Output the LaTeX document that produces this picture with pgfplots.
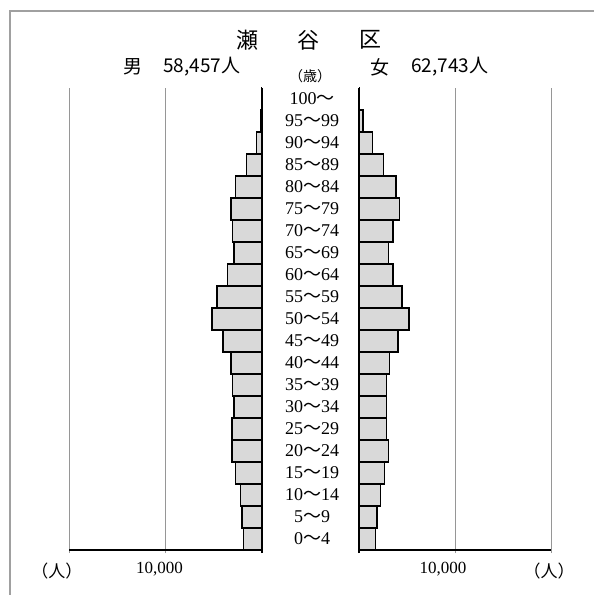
\documentclass[border=0pt]{standalone}
\usepackage{pgfplots}
\pgfplotsset{compat=1.18}
\usepackage{fontspec}
\setmainfont{Liberation Serif}
\newfontfamily\cjk{Noto Sans CJK JP}
\newfontfamily\ser{Liberation Serif}
\newcommand\T{{\cjk ～}}
\definecolor{barfill}{RGB}{217,217,217}
\definecolor{gridc}{RGB}{150,150,150}

\pgfplotstableread{
age male female
0 1900 1740
1 2070 1880
2 2250 2260
3 2730 2680
4 3110 3050
5 3110 2840
6 2900 2840
7 3080 2840
8 3210 3200
9 4040 4060
10 5180 5210
11 4660 4480
12 3550 3540
13 2900 3050
14 3080 3540
15 3210 4200
16 2730 3860
17 1590 2530
18 590 1390
19 150 420
20 30 50
}\pop

\pgfplotsset{
  pyr/.style={
    scale only axis,
    height=462pt,
    ymin=-0.5, ymax=20.5,
    xmin=0, xmax=20000,
    enlargelimits=false,
    scaled x ticks=false,
    xbar, bar width=1,
    axis x line*=bottom,
    axis y line*=left,
    y axis line style={draw=none},
    ytick style={draw=none},
    x axis line style={black, line width=1.2pt, -},
    xtick={10000,20000},
    xmajorgrids,
    grid style={gridc, line width=0.9pt},
    tick align=outside,
    major tick length=3pt,
    xtick style={gridc, line width=0.9pt},
    extra x ticks={0},
    extra x tick labels={},
    extra x tick style={grid style={black, line width=1.6pt}, major tick length=3pt, xtick style={black, line width=1.6pt}},
    xticklabel style={font=\fontsize{17}{17}\selectfont, yshift=-6pt},
    /pgf/number format/assume math mode=true,
  },
  barsty/.style={draw=black, line width=1.3pt, fill=barfill},
}

\begin{document}
\begin{tikzpicture}[x=1pt,y=1pt]
\useasboundingbox (0,0) rectangle (594,595);
\draw[gridc!90, line width=1.5pt] (10,0) -- (10,584) -- (594,584);

% left (male)
\begin{axis}[pyr, at={(69pt,45pt)}, anchor=south west, width=193pt,
  x dir=reverse, ytick=\empty,
  xticklabels={{\hspace*{-12pt}\ser 10,000},{\hspace*{-24pt}\cjk （人）}}]
\addplot[barsty] table[x=male, y=age] {\pop};
\end{axis}

% right (female)
\begin{axis}[pyr, at={(359pt,45pt)}, anchor=south west, width=192pt,
  ytick={0,...,20},
  yticklabels={
    {\ser 0\T 4},{\ser 5\T 9},{\ser 10\T 14},{\ser 15\T 19},{\ser 20\T 24},
    {\ser 25\T 29},{\ser 30\T 34},{\ser 35\T 39},{\ser 40\T 44},{\ser 45\T 49},
    {\ser 50\T 54},{\ser 55\T 59},{\ser 60\T 64},{\ser 65\T 69},{\ser 70\T 74},
    {\ser 75\T 79},{\ser 80\T 84},{\ser 85\T 89},{\ser 90\T 94},{\ser 95\T 99},
    {\ser 100\T}},
  yticklabel style={anchor=center, xshift=-44pt, font=\fontsize{18}{18}\selectfont, inner sep=0pt},
  xticklabels={{\hspace*{-24pt}\ser 10,000},{\hspace*{-4pt}\cjk （人）}}]
\addplot[barsty] table[x=female, y=age] {\pop};
\end{axis}

% titles
\begin{scope}[every node/.style={font=\cjk\fontsize{22}{22}\selectfont, inner sep=0pt}]
\node at (247,555) {瀬};
\node at (308,555) {谷};
\node at (370,555) {区};
\end{scope}
\begin{scope}[every node/.style={font=\cjk\fontsize{19}{19}\selectfont, inner sep=0pt}]
\node at (133,528) {男};
\node[anchor=west] at (163,528) {58,457人};
\node at (380,528) {女};
\node[anchor=west] at (411,528) {62,743人};
\end{scope}
\node[font=\cjk\fontsize{14}{14}\selectfont, inner sep=0pt] at (310,519) {（歳）};
\end{tikzpicture}
\end{document}
